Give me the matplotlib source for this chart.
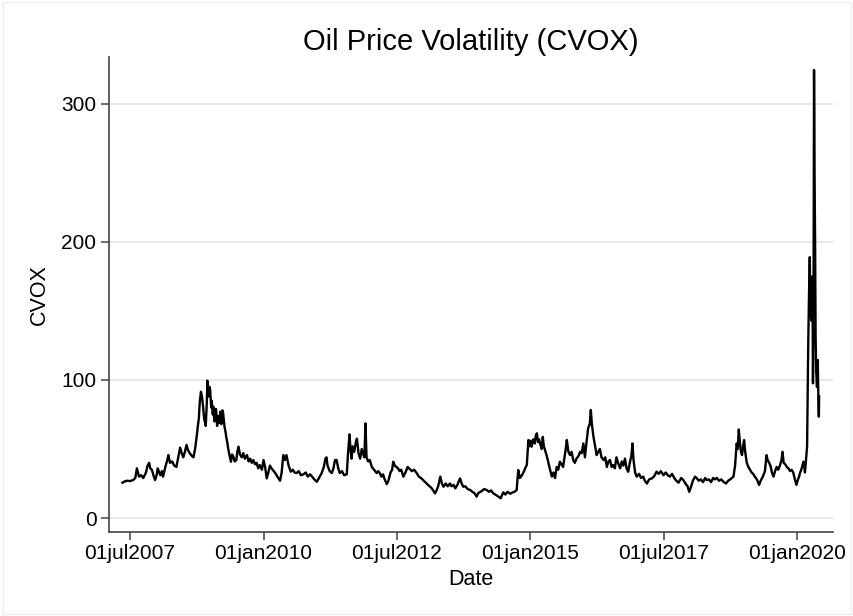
import pandas as pd
import matplotlib
matplotlib.use("Agg")
import matplotlib.pyplot as plt
from matplotlib.patches import Rectangle

# CVOX, dates as decimal years
years = [
    2007.36, 2007.40, 2007.44, 2007.50, 2007.56, 2007.60, 2007.63, 2007.67, 2007.71, 2007.75,
    2007.80, 2007.83, 2007.86, 2007.88, 2007.91, 2007.94, 2007.97, 2008.00, 2008.02, 2008.05,
    2008.07, 2008.10, 2008.12, 2008.15, 2008.17, 2008.20, 2008.22, 2008.25, 2008.29, 2008.33,
    2008.37, 2008.40, 2008.44, 2008.47, 2008.50, 2008.53, 2008.56, 2008.59, 2008.62, 2008.66,
    2008.69, 2008.72, 2008.75, 2008.77, 2008.79, 2008.81, 2008.83, 2008.85, 2008.87, 2008.89,
    2008.92, 2008.94, 2008.95, 2008.96, 2008.97, 2008.99, 2009.00, 2009.02, 2009.03, 2009.05,
    2009.06, 2009.08, 2009.09, 2009.11, 2009.13, 2009.15, 2009.17, 2009.19, 2009.21, 2009.23,
    2009.24, 2009.26, 2009.27, 2009.29, 2009.30, 2009.32, 2009.34, 2009.37, 2009.39, 2009.41,
    2009.43, 2009.46, 2009.49, 2009.51, 2009.53, 2009.56, 2009.59, 2009.62, 2009.65, 2009.69,
    2009.72, 2009.75, 2009.78, 2009.81, 2009.84, 2009.87, 2009.90, 2009.93, 2009.97, 2010.00,
    2010.03, 2010.06, 2010.09, 2010.12, 2010.15, 2010.19, 2010.22, 2010.26, 2010.31, 2010.34,
    2010.37, 2010.40, 2010.43, 2010.47, 2010.51, 2010.55, 2010.58, 2010.62, 2010.66, 2010.70,
    2010.75, 2010.79, 2010.83, 2010.87, 2010.91, 2010.95, 2011.00, 2011.04, 2011.09, 2011.13,
    2011.16, 2011.18, 2011.20, 2011.24, 2011.28, 2011.31, 2011.34, 2011.37, 2011.40, 2011.43,
    2011.47, 2011.51, 2011.56, 2011.58, 2011.61, 2011.63, 2011.65, 2011.67, 2011.70, 2011.73,
    2011.75, 2011.78, 2011.81, 2011.84, 2011.87, 2011.89, 2011.91, 2011.93, 2011.96, 2011.99,
    2012.03, 2012.07, 2012.12, 2012.15, 2012.18, 2012.21, 2012.24, 2012.27, 2012.31, 2012.34,
    2012.38, 2012.41, 2012.43, 2012.46, 2012.49, 2012.52, 2012.55, 2012.58, 2012.62, 2012.66,
    2012.70, 2012.74, 2012.78, 2012.82, 2012.87, 2012.91, 2012.95, 2012.99, 2013.03, 2013.08,
    2013.12, 2013.16, 2013.21, 2013.24, 2013.27, 2013.31, 2013.34, 2013.37, 2013.41, 2013.45,
    2013.49, 2013.52, 2013.56, 2013.59, 2013.63, 2013.66, 2013.68, 2013.71, 2013.74, 2013.78,
    2013.82, 2013.87, 2013.91, 2013.95, 2013.99, 2014.02, 2014.06, 2014.09, 2014.13, 2014.18,
    2014.22, 2014.26, 2014.30, 2014.34, 2014.38, 2014.44, 2014.47, 2014.49, 2014.53, 2014.57,
    2014.62, 2014.66, 2014.70, 2014.74, 2014.77, 2014.80, 2014.84, 2014.88, 2014.91, 2014.93,
    2014.96, 2014.98, 2015.00, 2015.02, 2015.05, 2015.08, 2015.10, 2015.12, 2015.14, 2015.16,
    2015.18, 2015.21, 2015.23, 2015.25, 2015.28, 2015.30, 2015.33, 2015.36, 2015.40, 2015.43,
    2015.46, 2015.49, 2015.52, 2015.55, 2015.58, 2015.61, 2015.64, 2015.66, 2015.68, 2015.71,
    2015.74, 2015.77, 2015.80, 2015.83, 2015.86, 2015.90, 2015.93, 2015.96, 2015.99, 2016.02,
    2016.05, 2016.08, 2016.11, 2016.13, 2016.15, 2016.18, 2016.21, 2016.24, 2016.27, 2016.30,
    2016.33, 2016.37, 2016.40, 2016.43, 2016.46, 2016.49, 2016.52, 2016.55, 2016.58, 2016.61,
    2016.64, 2016.68, 2016.71, 2016.74, 2016.77, 2016.80, 2016.83, 2016.86, 2016.89, 2016.91,
    2016.93, 2016.96, 2016.99, 2017.03, 2017.07, 2017.11, 2017.14, 2017.18, 2017.22, 2017.27,
    2017.31, 2017.36, 2017.40, 2017.44, 2017.49, 2017.53, 2017.57, 2017.61, 2017.65, 2017.69,
    2017.73, 2017.77, 2017.82, 2017.86, 2017.90, 2017.94, 2017.97, 2018.00, 2018.04, 2018.08,
    2018.11, 2018.15, 2018.19, 2018.23, 2018.27, 2018.30, 2018.34, 2018.38, 2018.42, 2018.45,
    2018.49, 2018.53, 2018.57, 2018.62, 2018.66, 2018.70, 2018.74, 2018.77, 2018.80, 2018.83,
    2018.86, 2018.88, 2018.90, 2018.92, 2018.94, 2018.96, 2018.98, 2019.00, 2019.02, 2019.05,
    2019.08, 2019.11, 2019.14, 2019.17, 2019.20, 2019.24, 2019.28, 2019.31, 2019.35, 2019.39,
    2019.42, 2019.44, 2019.47, 2019.50, 2019.52, 2019.55, 2019.58, 2019.61, 2019.64, 2019.67,
    2019.70, 2019.72, 2019.74, 2019.77, 2019.80, 2019.83, 2019.86, 2019.89, 2019.92, 2019.95,
    2019.98, 2020.01, 2020.03, 2020.05, 2020.08, 2020.11, 2020.13, 2020.14, 2020.16, 2020.180,
    2020.200, 2020.215, 2020.230, 2020.245, 2020.260, 2020.270, 2020.280, 2020.290, 2020.300, 2020.310,
    2020.320, 2020.330, 2020.340, 2020.350, 2020.365, 2020.380, 2020.390, 2020.400, 2020.405]

cvox = [
    25.6, 26.5, 27, 26.8, 27.5, 29, 36, 30, 31, 29,
    33, 38, 40, 36, 35, 31, 27.5, 31, 36, 33,
    31, 34, 30, 35, 38, 42, 45.6, 40, 41, 38,
    37, 43, 51, 47, 44, 48, 53, 49, 47, 45,
    44, 50, 59, 66, 72, 85, 91.5, 88, 80.6, 72,
    66.7, 84, 99.5, 92, 88, 95, 92.8, 80, 85, 75,
    80.6, 70, 72, 79, 66.7, 74, 69, 77, 68, 78,
    77, 70, 66, 62, 59, 55, 50, 44, 40.8, 46,
    45, 41, 42, 48, 51.7, 46, 44, 47, 43, 45.6,
    41, 43, 40, 42, 39, 40, 36, 38.4, 35, 42,
    37, 28.7, 33, 38, 36, 34, 32.6, 30, 27, 33,
    45.6, 42, 45.6, 38, 33.6, 35, 33, 32.6, 34, 31,
    31.7, 33, 30, 31.7, 30, 28, 26.3, 29, 32.6, 37,
    43, 44, 38, 34, 32.6, 36, 42, 42, 36, 32.6,
    34, 31, 31.7, 45, 60.6, 50, 43, 52, 48, 55,
    57.5, 47, 43, 50, 46, 44, 68.6, 44, 41, 42,
    37, 35, 32.6, 34, 32.4, 30, 31.7, 28, 24.6, 27,
    33, 35, 40.8, 38, 37, 36, 34, 35, 30, 33,
    37, 35.5, 34, 35, 32.6, 30, 29, 27.5, 26, 24,
    22.7, 21, 17.9, 20, 23, 30, 25, 22.7, 25, 23,
    25, 23, 24, 21.5, 24, 27, 28.7, 25, 22.7, 23,
    21, 20.3, 19, 18, 15.5, 18, 19, 19.6, 21, 20.3,
    19, 20, 18, 17, 16, 14.3, 17, 18.6, 17, 19,
    17.6, 18.5, 19, 20.3, 34.8, 29, 31, 34, 37, 38.4,
    56.5, 52, 56, 51.7, 57, 54, 60, 61.4, 55, 57,
    54, 50, 58.8, 52, 48, 45.6, 41, 36, 30, 33,
    29, 37, 35, 40.8, 39, 37, 45, 50, 56.5, 48,
    45.6, 48, 42, 40, 43, 45, 48, 47, 54, 44,
    55, 65, 68, 78.3, 68, 58.8, 52, 45.6, 48, 50,
    44, 42, 44, 37, 41, 42, 37, 38.4, 36, 44,
    40, 36, 41, 38, 43, 36, 33.5, 40, 45, 54,
    42, 33, 30, 32, 29, 30, 27, 25, 28, 28.7,
    30, 33.6, 32, 34, 31, 33, 31, 30, 32, 29,
    27, 25.6, 29, 27.5, 25, 23, 19, 22, 27, 30,
    29, 27, 28, 26, 29, 27.5, 28, 26, 29, 28,
    29, 27, 28, 26, 25, 27, 28, 29, 30, 38,
    54, 50, 64.2, 55, 48, 45.6, 52, 56.5, 48, 40,
    37, 35, 33, 32, 30, 28, 24, 27, 30, 34,
    45.6, 42, 40, 37, 33, 30, 34, 37, 35, 38,
    42, 48, 40, 39, 37, 36, 34, 35, 33, 28,
    24, 28, 30, 33, 36, 40.8, 37, 33, 42, 51.7,
    121.7, 160, 189, 150, 143, 165, 175, 97.6, 140, 324.6,
    250, 199, 130, 107, 95, 114.5, 90, 73.4, 88]

tick_dates = ["2007-07-01", "2010-01-01", "2012-07-01", "2015-01-01", "2017-07-01", "2020-01-01"]
tick_labels = ["01jul2007", "01jan2010", "01jul2012", "01jan2015", "01jul2017", "01jan2020"]


def to_date(y):
    yr = int(y)
    return pd.Timestamp(yr, 1, 1) + pd.Timedelta(days=(y - yr) * 365.25)


dates = [to_date(y) for y in years]

plt.rcParams['font.family'] = ['Liberation Sans', 'DejaVu Sans']

fig = plt.figure(figsize=(8.54, 6.16), dpi=100)
ax = fig.add_axes([0.1276, 0.1364, 0.8478, 0.7711])

ax.plot(dates, cvox, color='black', linewidth=1.7)

ax.set_ylim(-10.1, 334)
ax.set_xlim(to_date(2007.107), to_date(2020.665))
ax.set_yticks([0, 100, 200, 300])
ax.set_xticks([pd.Timestamp(d) for d in tick_dates])
ax.set_xticklabels(tick_labels)
ax.grid(axis='y', color='#e3e3e3', linewidth=1.2)
ax.set_axisbelow(True)

for s in ['top', 'right']:
    ax.spines[s].set_visible(False)
for s in ['left', 'bottom']:
    ax.spines[s].set_color('#444444')
    ax.spines[s].set_linewidth(1.2)
ax.tick_params(axis='both', labelsize=15, length=6, width=1.1, color='#444444', pad=3)

ax.set_ylabel('CVOX', fontsize=15.5, labelpad=8)
ax.set_xlabel('Date', fontsize=15.5, labelpad=4)
ax.set_title('Oil Price Volatility (CVOX)', fontsize=21, pad=5)

fig.patches.append(Rectangle((0.004, 0.004), 0.992, 0.992, transform=fig.transFigure,
                             fill=False, edgecolor='#eeeeee', linewidth=1))

fig.savefig('out.png', dpi=100)
